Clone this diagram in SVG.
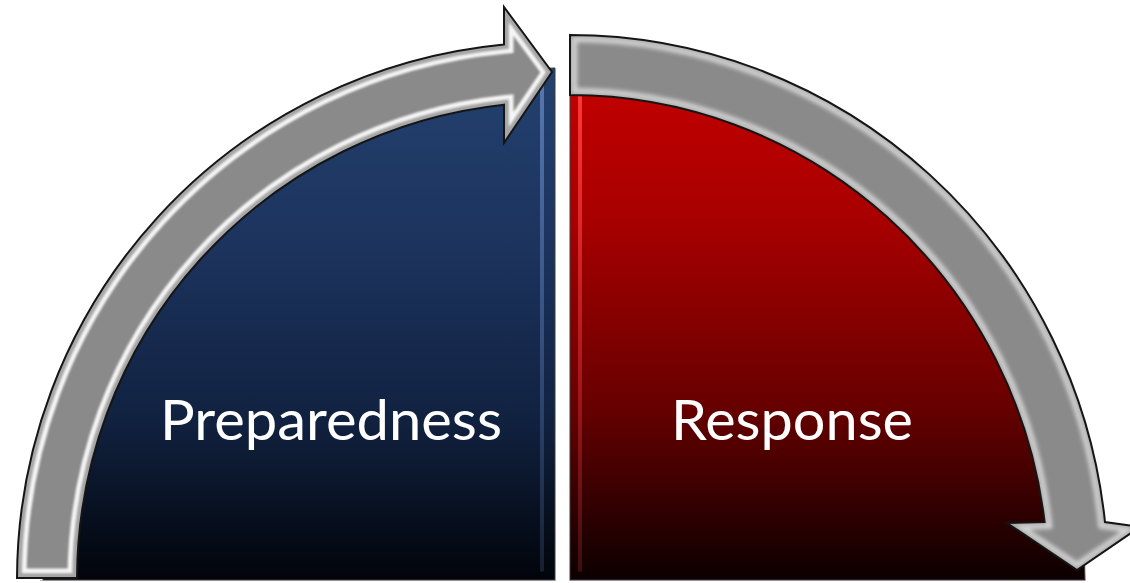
<svg xmlns="http://www.w3.org/2000/svg" xmlns:xlink="http://www.w3.org/1999/xlink" width="1130" height="583" viewBox="0 0 1130 583">
  <style>
    .label { font-family: Lato, "Open Sans", "Liberation Sans", sans-serif; font-size: 57px; fill: #ffffff; }
    .arrow-body { fill: #8a8a8a; }
    .arrow-edge { fill: none; stroke: #151515; stroke-width: 2; stroke-linejoin: miter; }
    .sector-edge { stroke: #3c3c3c; stroke-width: 1; }
  </style>
  <defs>
    <!-- curved arrow rising over the blue quarter -->
    <path id="arrowL" d="M 17 578 A 538 538 0 0 1 504 44.4 L 504 7 L 552 72 L 504 143 L 504 104.7 A 478 478 0 0 0 77 578 Z"/>
    <!-- curved arrow falling over the red quarter -->
    <path id="arrowR" d="M 570 35 A 538 545 0 0 1 1105 522 L 1140 527 L 1077 570 L 1007 523 L 1044.6 522 A 478 485 0 0 0 570 95 Z"/>
    <clipPath id="clipL"><use xlink:href="#arrowL"/></clipPath>
    <clipPath id="clipR"><use xlink:href="#arrowR"/></clipPath>
    <filter id="bevelSoft" x="-5%" y="-5%" width="110%" height="110%">
      <feGaussianBlur stdDeviation="1.1"/>
    </filter>
    <filter id="bevelWide" x="-5%" y="-5%" width="110%" height="110%">
      <feGaussianBlur stdDeviation="2.2"/>
    </filter>
    <linearGradient id="blueFill" gradientUnits="userSpaceOnUse" x1="0" y1="68" x2="0" y2="580">
      <stop offset="0" stop-color="#23416f"/>
      <stop offset="0.35" stop-color="#1c335d"/>
      <stop offset="0.68" stop-color="#112241"/>
      <stop offset="1" stop-color="#01040a"/>
    </linearGradient>
    <linearGradient id="redFill" gradientUnits="userSpaceOnUse" x1="0" y1="65" x2="0" y2="580">
      <stop offset="0" stop-color="#c40000"/>
      <stop offset="0.3" stop-color="#a80000"/>
      <stop offset="0.66" stop-color="#680000"/>
      <stop offset="1" stop-color="#0c0000"/>
    </linearGradient>
    <linearGradient id="blueShine" gradientUnits="userSpaceOnUse" x1="0" y1="68" x2="0" y2="572">
      <stop offset="0" stop-color="#5b7cb4" stop-opacity="0.95"/>
      <stop offset="0.6" stop-color="#4a6699" stop-opacity="0.55"/>
      <stop offset="1" stop-color="#3a4e70" stop-opacity="0.35"/>
    </linearGradient>
    <linearGradient id="redShine" gradientUnits="userSpaceOnUse" x1="0" y1="95" x2="0" y2="572">
      <stop offset="0" stop-color="#ff3a3a" stop-opacity="0.95"/>
      <stop offset="0.6" stop-color="#d83030" stop-opacity="0.5"/>
      <stop offset="1" stop-color="#8a2a2a" stop-opacity="0.35"/>
    </linearGradient>
  </defs>

  <rect width="1130" height="583" fill="#ffffff"/>

  <!-- left quarter: Preparedness -->
  <g id="preparedness">
    <path d="M 555 580 L 43 580 A 512 512 0 0 1 555 68 Z" fill="url(#blueFill)" class="sector-edge"/>
    <rect x="540" y="68" width="4" height="504" rx="2" fill="url(#blueShine)"/>
    <line x1="40" y1="580.5" x2="556" y2="580.5" stroke="#8c8c8c" stroke-width="1" opacity="0.6"/>
    <text class="label" x="160" y="440" textLength="342" lengthAdjust="spacingAndGlyphs">Preparedness</text>
  </g>

  <!-- right quarter: Response -->
  <g id="response">
    <path d="M 570 580 L 570 65 A 515 515 0 0 1 1085 580 Z" fill="url(#redFill)" class="sector-edge"/>
    <rect x="578" y="95" width="4" height="477" rx="2" fill="url(#redShine)"/>
    <line x1="569" y1="580.5" x2="1086" y2="580.5" stroke="#8c8c8c" stroke-width="1" opacity="0.6"/>
    <text class="label" x="671" y="440" textLength="242" lengthAdjust="spacingAndGlyphs">Response</text>
  </g>

  <!-- curved block arrows with bevelled edges -->
  <g id="connectors">
    <g id="arrow-preparedness">
      <use xlink:href="#arrowL" class="arrow-body"/>
      <g clip-path="url(#clipL)">
        <g filter="url(#bevelSoft)">
          <use xlink:href="#arrowL" fill="none" stroke="#f6f6f6" stroke-width="19"/>
          <use xlink:href="#arrowL" fill="none" stroke="#a6a6a6" stroke-width="10"/>
        </g>
      </g>
      <use xlink:href="#arrowL" class="arrow-edge"/>
    </g>
    <g id="arrow-response">
      <use xlink:href="#arrowR" class="arrow-body"/>
      <g clip-path="url(#clipR)">
        <g filter="url(#bevelWide)">
          <use xlink:href="#arrowR" fill="none" stroke="#d6d6d6" stroke-width="14"/>
          <use xlink:href="#arrowR" fill="none" stroke="#a2a2a2" stroke-width="5"/>
        </g>
      </g>
      <use xlink:href="#arrowR" class="arrow-edge"/>
    </g>
  </g>
</svg>
